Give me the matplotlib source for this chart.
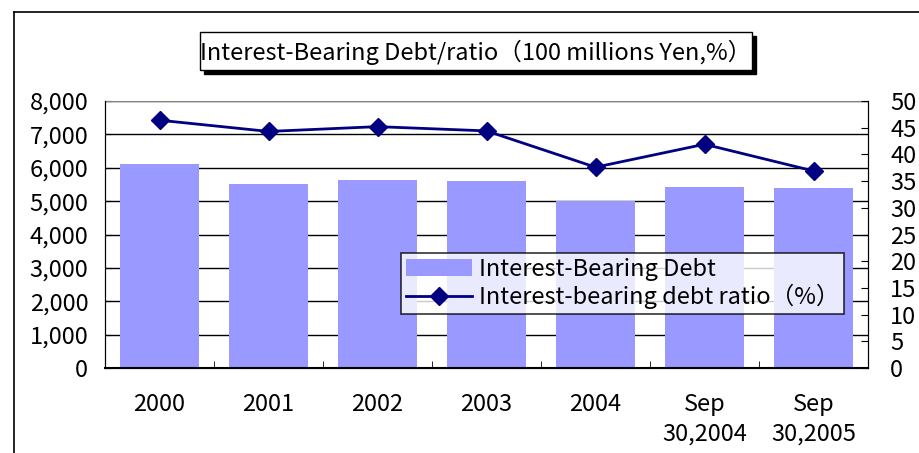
import matplotlib
matplotlib.use("Agg")
import matplotlib.pyplot as plt
from matplotlib.patches import Rectangle
from matplotlib.lines import Line2D
import numpy as np

# データ
categories = ["2000", "2001", "2002", "2003", "2004", "Sep\n30,2004", "Sep\n30,2005"]
debt = [6100, 5510, 5630, 5600, 5000, 5420, 5390]
ratio = [46.4, 44.3, 45.2, 44.4, 37.6, 41.9, 36.9]
left_ticks = [0, 1000, 2000, 3000, 4000, 5000, 6000, 7000, 8000]
right_ticks = [0, 5, 10, 15, 20, 25, 30, 35, 40, 45, 50]

plt.rcParams['font.family'] = ['Noto Sans CJK JP', 'DejaVu Sans']
FS = 17

W, H = 920, 453
fig = plt.figure(figsize=(W / 100, H / 100), dpi=100)

# 外枠 (左と上だけ見える)
fig.add_artist(Line2D([14 / W, 14 / W], [0, 1 - 12 / H], transform=fig.transFigure, color="black", lw=1.2))
fig.add_artist(Line2D([14 / W, 1], [1 - 12 / H, 1 - 12 / H], transform=fig.transFigure, color="black", lw=1.2))

ax = fig.add_axes([105 / W, (H - 368) / H, (868 - 105) / W, (368 - 101) / H])
x = np.arange(len(categories))
ax.bar(x, debt, width=0.73, color="#9999FF", zorder=2, label="Interest-Bearing Debt")
ax.set_xlim(-0.5, len(categories) - 0.5)
ax.set_ylim(0, 8000)
ax.set_yticks(left_ticks)
ax.set_yticklabels([f"{v:,}" for v in left_ticks], fontsize=FS)
ax.yaxis.grid(True, color="black", lw=1, zorder=0)
ax.set_axisbelow(True)
ax.set_xticks(x)
ax.set_xticklabels(categories, fontsize=FS, linespacing=1.35)
ax.tick_params(axis="x", length=0, pad=18)
ax.set_xticks(np.arange(0.5, len(categories) - 0.5), minor=True)
ax.tick_params(axis="x", which="minor", direction="in", length=5)
ax.tick_params(axis="y", direction="in", length=4, pad=12)
ax.spines["top"].set_color("#888888")
ax.spines["bottom"].set_linewidth(1.5)

ax2 = ax.twinx()
ax2.plot(x, ratio, color="#000080", lw=2, marker="D", markersize=9, label="Interest-bearing debt ratio（%）")
ax2.set_ylim(0, 50)
ax2.set_yticks(right_ticks)
ax2.set_yticklabels([str(v) for v in right_ticks], fontsize=FS)
ax2.tick_params(axis="y", direction="in", length=5, pad=16)
ax2.spines["top"].set_visible(False)

h1, l1 = ax.get_legend_handles_labels()
h2, l2 = ax2.get_legend_handles_labels()
leg = ax2.legend(h1 + h2, l1 + l2, loc="upper left", bbox_to_anchor=(0.388, 0.431),
                 borderaxespad=0, fontsize=FS, frameon=True, fancybox=False, edgecolor="black",
                 handlelength=2.8, borderpad=0.2, labelspacing=0.15, handletextpad=0.3)
leg.get_frame().set_linewidth(1.2)

# タイトル (影付きの箱)
fig.add_artist(Rectangle((204 / W, 1 - 74 / H), 552 / W, 38 / H, transform=fig.transFigure,
                         facecolor="black", edgecolor="black"))
fig.add_artist(Rectangle((200 / W, 1 - 70 / H), 552 / W, 38 / H, transform=fig.transFigure,
                         facecolor="white", edgecolor="black", lw=1))
fig.text(476 / W, 1 - 52 / H, "Interest-Bearing Debt/ratio（100 millions Yen,%）",
         ha="center", va="center", fontsize=FS)

fig.savefig("out.png", dpi=100)
